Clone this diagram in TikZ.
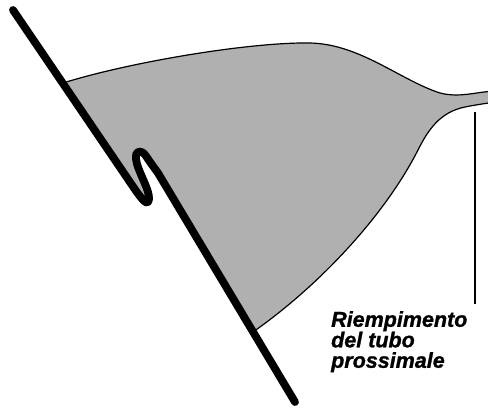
\documentclass[tikz,border=0pt]{standalone}
\usepackage{fontspec}
\setmainfont{Liberation Sans}
\newfontfamily\lblfont[FakeBold=1.2]{Liberation Sans Bold Italic}
\definecolor{fillgray}{RGB}{176,176,176}
\begin{document}
\begin{tikzpicture}[x=1pt,y=-1pt,
  wall/.style={line width=7.8pt,line cap=round,line join=round},
  edge/.style={line width=1.2pt},
  lbl/.style={font=\lblfont\fontsize{21.5pt}{20.5pt}\selectfont,
    align=left,inner sep=0pt,anchor=north west}]
\useasboundingbox (0,0) rectangle (488,408);
\clip (0,0) rectangle (488,408);

% key points of the wall and of the filled region
\coordinate (wallTop) at (13,10);
\coordinate (fillTop) at (63,83);
\coordinate (kinkIn) at (134,188);
\coordinate (kinkOut) at (158,173);
\coordinate (fillBot) at (253,332);
\coordinate (wallEnd) at (295,402);
\coordinate (neckBot) at (418,150);
\coordinate (crest) at (310,43);
\coordinate (neckTop) at (440,93);

% filled region bounded by the wall
\fill[fillgray] (fillTop) -- (kinkIn)
  .. controls (141,198) and (148,208) .. (149,199)
  .. controls (150,190) and (137,170) .. (136,159)
  .. controls (135,150) and (141,149) .. (146,156)
  .. controls (150,162) .. (kinkOut) -- (fillBot)
  .. controls (320,285) and (385,215) .. (neckBot)
  .. controls (428,130) and (440,112) .. (465,107)
  .. controls (475,105) and (482,104) .. (495,102)
  -- (495,91)
  .. controls (475,92) and (460,98) .. (neckTop)
  .. controls (400,80) and (360,44) .. (crest)
  .. controls (250,42) and (130,62) .. (fillTop) -- cycle;

% thin outlines of the filled region
\draw[edge] (fillTop) .. controls (130,62) and (250,42) .. (crest)
  .. controls (360,44) and (400,80) .. (neckTop)
  .. controls (460,98) and (475,92) .. (495,91);
\draw[edge] (fillBot) .. controls (320,285) and (385,215) .. (neckBot)
  .. controls (428,130) and (440,112) .. (465,107)
  .. controls (475,105) and (482,104) .. (495,102);

% thick wall with its fold
\draw[wall] (wallTop) -- (kinkIn)
  .. controls (141,198) and (148,208) .. (149,199)
  .. controls (150,190) and (137,170) .. (136,159)
  .. controls (135,150) and (141,149) .. (146,156)
  .. controls (150,162) .. (kinkOut) -- (wallEnd);

% label with its marker line
\coordinate (markTop) at (475,112);
\coordinate (markBot) at (475,304);
\draw[line width=1.3pt] (markTop) -- (markBot);
\node[lbl] (label) at (331,311) {Riempimento\\del tubo\\prossimale};
\end{tikzpicture}
\end{document}
